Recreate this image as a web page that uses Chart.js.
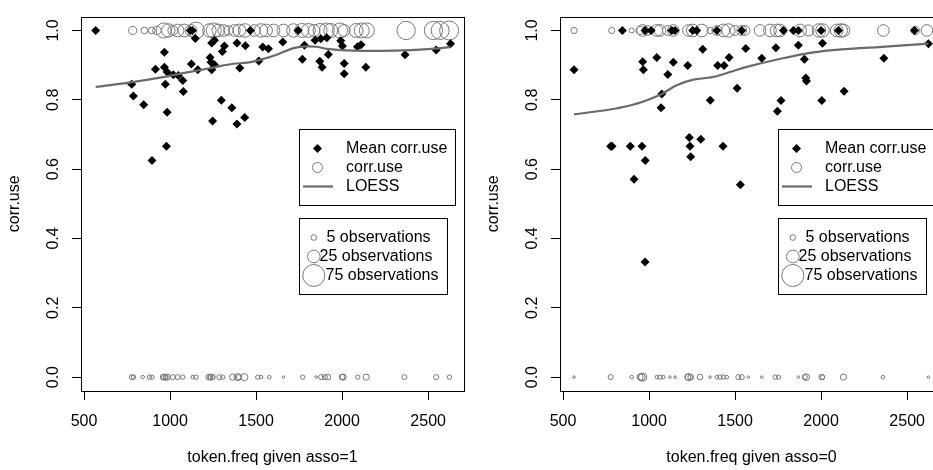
<!DOCTYPE html>
<html>
<head>
<meta charset="utf-8">
<script src="https://cdn.jsdelivr.net/npm/chart.js@4.4.0/dist/chart.umd.min.js"></script>
<style>
  html, body { margin: 0; padding: 0; background: #fff; overflow: hidden; width: 933px; height: 470px; }
  canvas { position: absolute; top: 0; }
  #left { left: 0; }
  #right { left: 479px; }
</style>
</head>
<body>
<canvas id="left" width="479" height="470"></canvas>
<canvas id="right" width="479" height="470"></canvas>
<script>
// axis ticks
const xTicks = [500, 1000, 1500, 2000, 2500];
const yTicks = [0, 0.2, 0.4, 0.6, 0.8, 1.0];

// ---- asso = 1 ----
// [token.freq, mean corr.use]
const leftMeans = [
	[568, 1.0], [1118, 1.0], [1130, 1.0], [1147, 0.977], [1242, 0.964], [1258, 0.972], [1316, 0.955],
	[1304, 0.939], [1389, 0.964], [1438, 0.956], [1467, 1.0], [1539, 0.952], [1572, 0.947],
	[967, 0.937], [915, 0.888], [967, 0.894], [983, 0.880], [1019, 0.872], [1048, 0.870],
	[1074, 0.856], [1124, 0.903], [1161, 0.887], [1233, 0.922], [1238, 0.908], [1242, 0.887],
	[1258, 0.901], [1405, 0.892], [1516, 0.912], [777, 0.845], [973, 0.845], [1077, 0.824],
	[787, 0.811], [847, 0.786], [983, 0.764], [1298, 0.799], [1359, 0.777], [1247, 0.739],
	[1389, 0.730], [1434, 0.749], [979, 0.666], [895, 0.625],
	[1744, 1.0], [1655, 0.967], [1781, 0.957], [1843, 0.972], [1876, 0.976], [1911, 0.979],
	[1992, 0.970], [2002, 0.955], [2089, 0.953], [2110, 0.959], [1769, 0.917], [1870, 0.911],
	[1884, 0.894], [1920, 0.931], [2012, 0.905], [2012, 0.875], [2138, 0.894], [2366, 0.930],
	[2547, 0.944], [2630, 0.962]
];
// [token.freq, observations with corr.use = 1]
const leftOnes = [
	[783, 10], [851, 7], [894, 7], [924, 11], [963, 35], [990, 28], [1016, 15], [1044, 25],
	[1083, 25], [1122, 21], [1151, 43], [1229, 28], [1254, 35], [1281, 25], [1312, 21],
	[1339, 14], [1374, 21], [1403, 25], [1436, 28], [1490, 21], [1529, 28], [1558, 25],
	[1601, 25], [1659, 25], [1717, 28], [1766, 30], [1804, 30], [1837, 22], [1872, 30],
	[1911, 35], [1934, 30], [1988, 35], [2012, 22], [2081, 30], [2114, 35], [2144, 35],
	[2372, 52], [2531, 52], [2570, 50], [2622, 56]
];
// [token.freq, observations with corr.use = 0]
const leftZeros = [
	[778, 4], [788, 3], [841, 2], [880, 3], [895, 3], [960, 5], [967, 6], [975, 4], [983, 6],
	[1016, 4], [1044, 4], [1074, 3], [1132, 2], [1151, 3], [1225, 5], [1233, 4], [1240, 6],
	[1248, 4], [1287, 4], [1306, 3], [1364, 6], [1393, 8], [1400, 4], [1432, 8], [1510, 3],
	[1529, 2], [1577, 2], [1659, 1], [1771, 3], [1849, 1], [1878, 4], [1900, 4], [1917, 5],
	[2000, 5], [2006, 6], [2091, 3], [2140, 6], [2362, 4], [2547, 4], [2624, 3]
];
const leftLoess = [
	[568, 0.837], [780, 0.851], [942, 0.864], [1100, 0.879], [1250, 0.893], [1367, 0.904],
	[1450, 0.907], [1523, 0.915], [1620, 0.930], [1717, 0.949], [1790, 0.954], [1850, 0.953],
	[1911, 0.947], [2065, 0.942], [2300, 0.942], [2500, 0.946], [2630, 0.952]
];

// ---- asso = 0 ----
const rightMeans = [
	[564, 0.887], [845, 1.0], [977, 1.0], [1012, 1.0], [1132, 1.0], [1151, 1.0], [1254, 1.0],
	[1277, 1.0], [1394, 1.0], [1539, 1.0], [963, 0.910], [967, 0.887], [1045, 0.922],
	[1141, 0.908], [1109, 0.873], [1225, 0.899], [1312, 0.946], [1399, 0.899], [1436, 0.899],
	[1465, 0.922], [1562, 0.948], [1074, 0.817], [1070, 0.777], [1356, 0.799], [1512, 0.833],
	[777, 0.666], [785, 0.666], [891, 0.666], [959, 0.666], [978, 0.625], [1234, 0.691],
	[1238, 0.666], [1242, 0.636], [1301, 0.686], [1430, 0.666], [913, 0.571], [977, 0.332],
	[1531, 0.555],
	[1781, 1.0], [1839, 1.0], [1868, 1.0], [2000, 1.0], [2101, 1.0], [2543, 1.0], [1655, 0.920],
	[1737, 0.950], [1868, 0.957], [2008, 0.963], [1903, 0.917], [1911, 0.863], [1915, 0.854],
	[2134, 0.825], [1767, 0.798], [1746, 0.767], [2004, 0.798], [2365, 0.920], [2624, 0.962]
];
const rightOnes = [
	[564, 6], [783, 6], [899, 4], [948, 11], [963, 21], [990, 15], [1045, 21], [1064, 21],
	[1107, 15], [1141, 21], [1229, 21], [1254, 25], [1306, 25], [1355, 6], [1394, 15],
	[1432, 25], [1461, 28], [1500, 15], [1539, 15], [1558, 15], [1645, 21], [1703, 25],
	[1742, 25], [1762, 25], [1878, 25], [1926, 19], [1988, 28], [2008, 28], [2091, 25],
	[2115, 28], [2130, 25], [2362, 21], [2547, 11], [2615, 21]
];
const rightZeros = [
	[564, 1], [777, 4], [899, 2], [948, 6], [957, 8], [963, 10], [1045, 2], [1064, 3], [1083, 2],
	[1122, 1], [1151, 1], [1225, 6], [1232, 8], [1242, 5], [1296, 5], [1355, 1], [1394, 2],
	[1413, 3], [1432, 3], [1452, 2], [1519, 4], [1539, 4], [1577, 1], [1655, 1], [1733, 3],
	[1752, 3], [1868, 1], [1905, 4], [1913, 7], [2004, 5], [2008, 3], [2130, 6], [2359, 2],
	[2624, 1]
];
const rightLoess = [
	[564, 0.758], [773, 0.772], [900, 0.785], [967, 0.795], [1074, 0.817], [1161, 0.842],
	[1258, 0.858], [1374, 0.866], [1470, 0.880], [1568, 0.895], [1752, 0.917], [1946, 0.936],
	[2140, 0.946], [2333, 0.952], [2624, 0.962]
];

// legend texts
const legendLabels = ['Mean corr.use', 'corr.use', 'LOESS'];
const sizeLabels = ['5 observations', '25 observations', '75 observations'];
const sizeCounts = [5, 25, 75];

const FONT = '"Liberation Sans", Arial, Helvetica, sans-serif';
const CIRCLE_GREY = '#777777';
const LINE_GREY = '#6a6a6a';

Chart.defaults.font.family = FONT;
Chart.defaults.color = '#000';

// circle radius grows with sqrt of the count
function obsRadius(n) {
	return 1.27 * Math.sqrt(n);
}

function drawDiamond(ctx, x, y, r) {
	ctx.beginPath();
	ctx.moveTo(x, y - r);
	ctx.lineTo(x + r, y);
	ctx.lineTo(x, y + r);
	ctx.lineTo(x - r, y);
	ctx.closePath();
	ctx.fill();
}

// box round the plot region plus the two R style legends
const boxPlugin = {
	id: 'rbox',
	afterDraw(chart) {
		const ctx = chart.ctx;
		const a = chart.chartArea;
		ctx.save();
		ctx.strokeStyle = '#000';
		ctx.lineWidth = 1;
		ctx.strokeRect(Math.round(a.left) + 0.5, Math.round(a.top) + 0.5,
			Math.round(a.right - a.left), Math.round(a.bottom - a.top));

		// legend 1
		ctx.strokeRect(299.5, 129.5, 156, 76);
		ctx.font = '16px ' + FONT;
		ctx.textBaseline = 'middle';
		ctx.textAlign = 'left';
		ctx.fillStyle = '#000';
		drawDiamond(ctx, 317.5, 148.5, 4.5);
		ctx.fillText(legendLabels[0], 346, 148.5);
		ctx.strokeStyle = CIRCLE_GREY;
		ctx.beginPath();
		ctx.arc(317.5, 167.5, 5, 0, Math.PI * 2);
		ctx.stroke();
		ctx.fillText(legendLabels[1], 346, 167.5);
		ctx.strokeStyle = LINE_GREY;
		ctx.lineWidth = 2.2;
		ctx.beginPath();
		ctx.moveTo(303, 186.5);
		ctx.lineTo(333, 186.5);
		ctx.stroke();
		ctx.fillText(legendLabels[2], 346, 186.5);

		// legend 2
		ctx.strokeStyle = '#000';
		ctx.lineWidth = 1;
		ctx.strokeRect(299.5, 218.5, 148, 76);
		const rows = [237.5, 256.5, 275.5];
		const textX = [326.5, 319.5, 325.5];
		ctx.strokeStyle = CIRCLE_GREY;
		sizeCounts.forEach((n, i) => {
			ctx.beginPath();
			ctx.arc(313.8, rows[i], obsRadius(n), 0, Math.PI * 2);
			ctx.stroke();
			ctx.fillText(sizeLabels[i], textX[i], rows[i]);
		});
		ctx.restore();
	}
};

function makeChart(id, means, ones, zeros, loess, xTitle) {
	const circles = (pts, yv) => ({
		data: pts.map(p => ({ x: p[0], y: yv, n: p[1] })),
		pointStyle: 'circle',
		pointRadius: ctx => obsRadius(ctx.raw.n),
		pointBackgroundColor: 'rgba(0,0,0,0)',
		pointBorderColor: CIRCLE_GREY,
		pointBorderWidth: 1,
		order: 3
	});

	const axisGrid = {
		display: true,
		drawOnChartArea: false,
		drawTicks: true,
		tickLength: 9,
		color: '#000',
		lineWidth: 1
	};

	return new Chart(document.getElementById(id), {
		type: 'scatter',
		data: {
			datasets: [
				{
					data: loess.map(p => ({ x: p[0], y: p[1] })),
					showLine: true,
					borderColor: LINE_GREY,
					borderWidth: 2.2,
					pointRadius: 0,
					tension: 0.35,
					order: 0
				},
				{
					data: means.map(p => ({ x: p[0], y: p[1] })),
					pointStyle: 'rectRot',
					pointRadius: 4.5,
					pointBackgroundColor: '#000',
					pointBorderColor: '#000',
					pointBorderWidth: 0,
					order: 1
				},
				circles(ones, 1),
				circles(zeros, 0)
			]
		},
		options: {
			responsive: false,
			animation: false,
			events: [],
			layout: { padding: { left: 0, right: 15, top: 8, bottom: 0 } },
			plugins: {
				legend: { display: false },
				tooltip: { enabled: false }
			},
			scales: {
				x: {
					type: 'linear',
					min: 482.5,
					max: 2708.5,
					afterBuildTicks: s => { s.ticks = xTicks.map(v => ({ value: v })); },
					afterFit: s => { s.height = 79; },
					grid: axisGrid,
					border: { display: false },
					ticks: {
						color: '#000',
						font: { size: 16 },
						padding: 12,
						maxRotation: 0,
						autoSkip: false,
						callback: v => String(v)
					},
					title: {
						display: true,
						text: xTitle,
						color: '#000',
						font: { size: 16 },
						padding: { top: 0, bottom: 3 }
					}
				},
				y: {
					min: -0.04,
					max: 1.04,
					afterBuildTicks: s => { s.ticks = yTicks.map(v => ({ value: v })); },
					afterFit: s => { s.width = 81; },
					grid: axisGrid,
					border: { display: false },
					ticks: {
						color: '#000',
						font: { size: 16 },
						minRotation: 90,
						maxRotation: 90,
						crossAlign: 'center',
						padding: 7,
						callback: v => v.toFixed(1)
					},
					title: {
						display: true,
						text: 'corr.use',
						color: '#000',
						font: { size: 16 },
						padding: { top: 5, bottom: 0 }
					}
				}
			}
		},
		plugins: [boxPlugin]
	});
}

makeChart('left', leftMeans, leftOnes, leftZeros, leftLoess, 'token.freq given asso=1');
makeChart('right', rightMeans, rightOnes, rightZeros, rightLoess, 'token.freq given asso=0');
</script>
</body>
</html>
